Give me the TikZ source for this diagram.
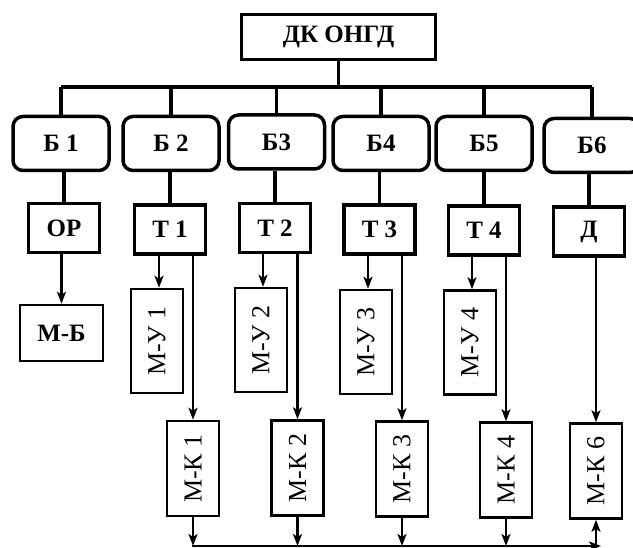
\documentclass[tikz,border=0pt]{standalone}
\usepackage{fontspec}
\setmainfont{Liberation Serif}
\usetikzlibrary{arrows.meta}

\begin{document}
\begin{tikzpicture}[x = 1pt, y = -1pt,
    every node/.style = {inner sep = 0pt, font = \fontsize{26}{28}\selectfont},
    headbox/.style = {draw, line width = 3.5pt, minimum width = 194pt, minimum height = 45pt, font = \fontsize{25}{28}\selectfont\bfseries},
    blockbox/.style = {draw, rounded corners = 10pt, line width = 3.5pt, minimum width = 96pt, minimum height = 54pt, font = \fontsize{25}{28}\selectfont\bfseries},
    unitbox/.style = {draw, line width = 3.5pt, minimum width = 71pt, minimum height = 49pt, font = \fontsize{25}{28}\selectfont\bfseries},
    modbox/.style = {draw, line width = 2.5pt, minimum width = 52pt, minimum height = 95pt},
    bus/.style = {line width = 3.5pt},
    flow/.style = {line width = 2.3pt, -{Stealth[length = 12pt, width = 9pt, inset = 3pt]}}
]
    \useasboundingbox (0,0) rectangle (633,548);

    % Draw head box and bus
    \node[headbox] (head) at (338.5,37) {ДК ОНГД};
    \coordinate (busL) at (61,87);
    \coordinate (busR) at (592,87);
    \draw[bus] (busL) -- (busR);
    \draw[bus] (head.south) -- (head.south |- busL);

    % Draw blocks
    \node[blockbox] (b1) at (61,143.5) {Б 1};
    \node[blockbox] (b2) at (171,143.5) {Б 2};
    \node[blockbox] (b3) at (276.5,142) {Б3};
    \node[blockbox] (b4) at (381,143.5) {Б4};
    \node[blockbox] (b5) at (484,143.5) {Б5};
    \node[blockbox] (b6) at (592,145.5) {Б6};
    \foreach \b in {b1,b2,b3,b4,b5,b6}
        \draw[bus] (\b.north |- busL) -- (\b.north);

    % Draw units under blocks
    \node[unitbox] (or) at (64,228) {ОР};
    \node[unitbox] (t1) at (170,229.5) {Т 1};
    \node[unitbox] (t2) at (275,228) {Т 2};
    \node[unitbox] (t3) at (379.5,229.5) {Т 3};
    \node[unitbox] (t4) at (484,230.5) {Т 4};
    \node[unitbox] (d) at (589,231.5) {Д};
    \foreach \b/\t in {b1/or,b2/t1,b3/t2,b4/t3,b5/t4,b6/d}
        \draw[bus] (\t.north |- \b.south) -- (\t.north);

    % Draw M-B
    \node[modbox, minimum width = 83pt, minimum height = 56pt, font = \fontsize{25}{28}\selectfont\bfseries] (mb) at (61.5,333) {М-Б};
    \draw[flow] (or.south -| mb.north) -- (mb.north);

    % Draw M-U boxes
    \node[modbox, minimum height = 104pt] (mu1) at (157,341) {\rotatebox{90}{М-У 1}};
    \node[modbox, minimum height = 104pt] (mu2) at (261,340) {\rotatebox{90}{М-У 2}};
    \node[modbox, minimum height = 104pt] (mu3) at (366,342) {\rotatebox{90}{М-У 3}};
    \node[modbox, minimum height = 104pt] (mu4) at (470,342.5) {\rotatebox{90}{М-У 4}};
    \foreach \t/\m in {t1/mu1,t2/mu2,t3/mu3,t4/mu4}
        \draw[flow] ([xshift = 2pt]\t.south -| \m.north) -- ([xshift = 2pt]\m.north);

    % Draw M-K boxes
    \node[modbox] (mk1) at (193,468.5) {\rotatebox{90}{М-К 1}};
    \node[modbox] (mk2) at (297.5,468) {\rotatebox{90}{М-К 2}};
    \node[modbox] (mk3) at (402,469) {\rotatebox{90}{М-К 3}};
    \node[modbox] (mk4) at (506,470) {\rotatebox{90}{М-К 4}};
    \node[modbox] (mk6) at (596,471) {\rotatebox{90}{М-К 6}};
    \foreach \t/\m in {t1/mk1,t2/mk2,t3/mk3,t4/mk4,d/mk6}
        \draw[flow] (\m.north |- \t.south) -- (\m.north);

    % Draw output line
    \coordinate (outL) at (192,546);
    \coordinate (outR) at (601,546);
    \draw[flow] (outL) -- (outR);
    \foreach \m in {mk1,mk2,mk3,mk4}
        \draw[flow] (\m.south) -- (\m.south |- outL);
    \draw[flow] (mk6.south |- outL) -- (mk6.south);
\end{tikzpicture}
\end{document}
